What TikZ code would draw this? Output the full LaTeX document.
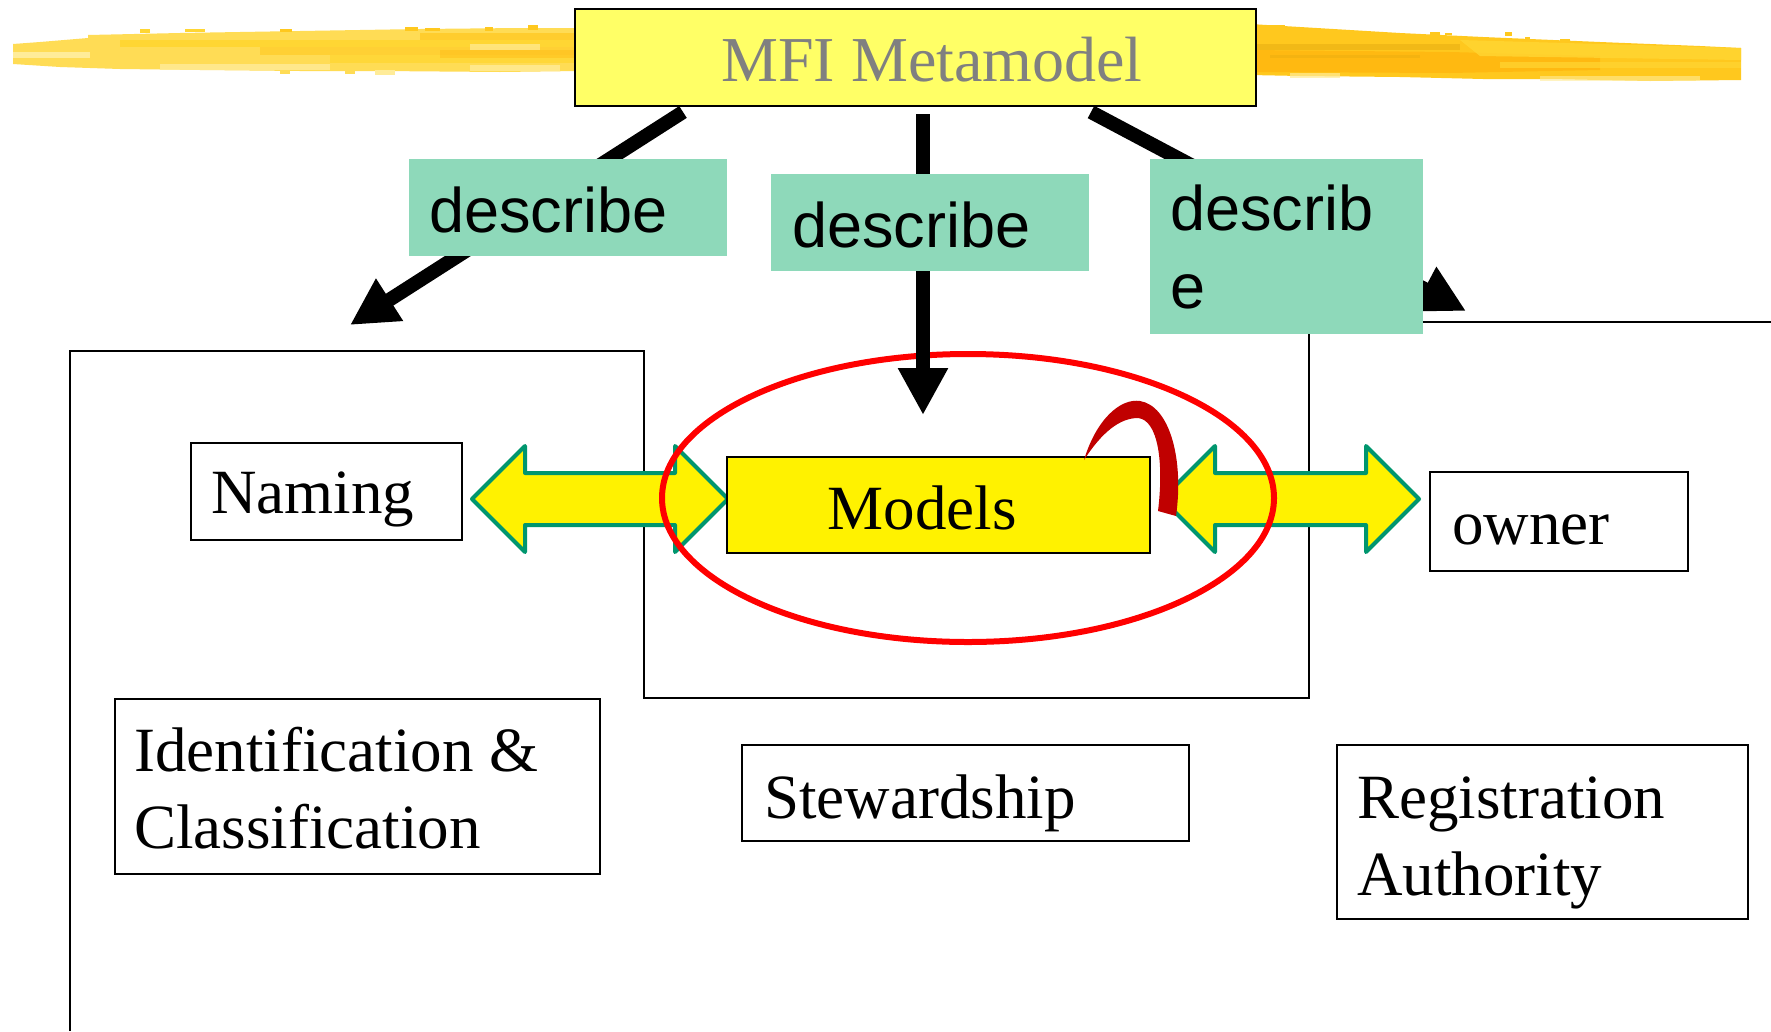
\documentclass[tikz,border=0pt]{standalone}
\usepackage{fontspec}
\setmainfont{Liberation Serif}
\newfontfamily\arialfont{Liberation Sans}
\usetikzlibrary{arrows.meta}
\definecolor{mfiyellow}{HTML}{FFFF66}
\definecolor{tealfill}{HTML}{8ED9BA}
\definecolor{arrowgreen}{HTML}{00966E}
\definecolor{hookred}{HTML}{C00000}
\definecolor{brushA}{HTML}{FFDC55}
\definecolor{brushB}{HTML}{FFC81E}
\definecolor{brushC}{HTML}{FFB70F}
\definecolor{brushD}{HTML}{FFEC99}
\definecolor{brushE}{HTML}{FFD633}
\definecolor{brushF}{HTML}{E0A810}
\begin{document}
\begin{tikzpicture}[x=1pt,y=-1pt,
  txtbox/.style={draw=black, line width=2pt, fill=white, inner sep=0pt},
  tealbox/.style={fill=tealfill, draw=none, inner sep=0pt},
  serif/.style={font=\fontsize{63}{75}\selectfont, anchor=base west, inner sep=0pt},
  sans/.style={font=\arialfont\fontsize{63}{75}\selectfont, anchor=base west, inner sep=0pt},
  bigarrow/.style={line width=14pt, -{Triangle[length=47pt,width=47pt]}},
  dblarrow/.style={draw=arrowgreen, fill=yellow, line width=4pt, line join=round},
  frameline/.style={draw=black, line width=2pt},
]
\useasboundingbox (0,0) rectangle (1771,1031);
\fill[white] (0,0) rectangle (1771,1031);

% left brush stroke
\fill[brushA] (13,44) -- (40,42) -- (88,38) -- (88,35) -- (180,33) -- (300,31) -- (420,29) -- (520,28) -- (580,28)
  -- (580,71) -- (500,72) -- (380,71) -- (300,71) -- (200,70) -- (120,69) -- (60,67) -- (13,64) -- cycle;
\fill[brushE] (120,40) rectangle (580,47);
\fill[brushB, opacity=0.6] (260,47) rectangle (580,55);
\fill[brushE, opacity=0.8] (330,55) rectangle (580,63);
\fill[brushB, opacity=0.7] (420,33) rectangle (580,40);
\fill[brushC, opacity=0.4] (440,50) rectangle (580,58);
\fill[brushD] (13,52) rectangle (90,58);
\fill[brushD, opacity=0.8] (160,64) rectangle (330,70);
\fill[brushD, opacity=0.8] (470,65) rectangle (560,71);
\fill[brushD, opacity=0.7] (470,44) rectangle (540,50);
\fill[brushE] (140,29) rectangle (150,33);
\fill[brushE] (185,29) rectangle (205,32);
\fill[brushB] (280,29) rectangle (292,32);
\fill[brushB] (405,27) rectangle (418,31);
\fill[brushB] (425,28) rectangle (440,31);
\fill[brushB] (485,27) rectangle (493,31);
\fill[brushB] (528,25) rectangle (538,30);
\fill[brushA] (280,70) rectangle (290,74);
\fill[brushA] (345,70) rectangle (355,74);
\fill[brushD] (375,70) rectangle (395,75);

% right brush stroke
\fill[brushB] (1250,24) -- (1300,27) -- (1400,33) -- (1483,37) -- (1600,42) -- (1700,46) -- (1741,48)
  -- (1741,80) -- (1650,81) -- (1550,79) -- (1483,79) -- (1400,77) -- (1300,76) -- (1250,75) -- cycle;
\fill[brushC, opacity=0.85] (1250,50) -- (1450,52) -- (1600,56) -- (1600,70) -- (1450,73) -- (1250,72) -- cycle;
\fill[brushF, opacity=0.45] (1255,44) rectangle (1460,50);
\fill[brushF, opacity=0.35] (1270,55) rectangle (1420,58);
\fill[brushE, opacity=0.8] (1460,40) -- (1741,48) -- (1741,60) -- (1480,56) -- cycle;
\fill[brushE, opacity=0.7] (1500,62) rectangle (1741,68);
\fill[brushD, opacity=0.7] (1290,73) rectangle (1340,78);
\fill[brushD, opacity=0.6] (1540,76) rectangle (1700,81);
\fill[brushB] (1270,25) rectangle (1285,29);
\fill[brushB] (1430,32) rectangle (1440,36);
\fill[brushB] (1445,33) rectangle (1452,35);
\fill[brushB] (1505,32) rectangle (1512,36);
\fill[brushB] (1525,37) rectangle (1530,40);
\fill[brushB] (1560,39) rectangle (1570,41);

% frames
\draw[frameline] (70,1031) -- (70,351) -- (644,351) -- (644,698) -- (1309,698) -- (1309,322) -- (1771,322);

% double arrows
\draw[dblarrow] (472,499) -- (525,446) -- (525,473) -- (675,473) -- (675,446) -- (728,499)
  -- (675,552) -- (675,525) -- (525,525) -- (525,552) -- cycle;
\draw[dblarrow] (1162,499) -- (1215,446) -- (1215,473) -- (1366,473) -- (1366,446) -- (1419,499)
  -- (1366,552) -- (1366,525) -- (1215,525) -- (1215,552) -- cycle;

% red ellipse
\draw[red, line width=6pt] (968,498) ellipse [x radius=306pt, y radius=144pt];

% describe arrows
\coordinate (ls) at (683,112);
\coordinate (le) at (350,325);
\coordinate (ms) at (923,114);
\coordinate (me) at (923,415);
\coordinate (rs) at (1091,112);
\coordinate (re) at (1466,311);
\draw[bigarrow] (ls) -- (le);
\draw[bigarrow] (ms) -- (me);
\draw[bigarrow] (rs) -- (re);

% teal label boxes
\node[tealbox, minimum width=318pt, minimum height=97pt] (d1) at (567.5,207) {};
\node[tealbox, minimum width=318pt, minimum height=97pt] (d2) at (930,222.5) {};
\node[tealbox, minimum width=273pt, minimum height=175pt] (d3) at (1286.5,246.5) {};
\node[sans] (t1) at (429,232) {describe};
\node[sans] (t2) at (792,247) {describe};
\node[sans] (t3a) at (1170,230) {describ};
\node[sans] (t3b) at (1170,308) {e};

% MFI box
\node[draw=black, line width=2.5pt, fill=mfiyellow, minimum width=681pt, minimum height=97pt, inner sep=0pt] (mfi) at (915.5,57.5) {};
\node[font=\fontsize{64}{75}\selectfont, text=black!50, anchor=base, inner sep=0pt] (mfit) at (932,81) {MFI Metamodel};

% Models
\node[draw=black, line width=2.5pt, fill=yellow, minimum width=423pt, minimum height=96pt, inner sep=0pt] (models) at (938.5,505) {};
\node[serif, anchor=base] (modelst) at (922,529) {Models};

% text boxes
\node[txtbox, minimum width=271pt, minimum height=97pt] (naming) at (326.5,491.5) {};
\node[serif] (namingt) at (211,513) {Naming};
\node[txtbox, minimum width=258pt, minimum height=99pt] (owner) at (1559,521.5) {};
\node[serif] (ownert) at (1452,544) {owner};
\node[txtbox, minimum width=485pt, minimum height=175pt] (ident) at (357.5,786.5) {};
\node[serif] (identa) at (134,771) {Identification \&};
\node[serif] (identb) at (134,848) {Classification};
\node[txtbox, minimum width=447pt, minimum height=96pt] (stew) at (965.5,793) {};
\node[serif] (stewt) at (764,818) {Stewardship};
\node[txtbox, minimum width=411pt, minimum height=174pt] (reg) at (1542.5,832) {};
\node[serif] (rega) at (1357,818) {Registration};
\node[serif] (regb) at (1357,895) {Authority};

% dark red hook
\fill[hookred] (1084,460) .. controls (1096,420) and (1120,398) .. (1140,401)
  .. controls (1170,406) and (1184,460) .. (1176,516) -- (1158,511)
  .. controls (1164,462) and (1158,420) .. (1138,418)
  .. controls (1120,418) and (1102,432) .. (1084,460) -- cycle;
\end{tikzpicture}
\end{document}
